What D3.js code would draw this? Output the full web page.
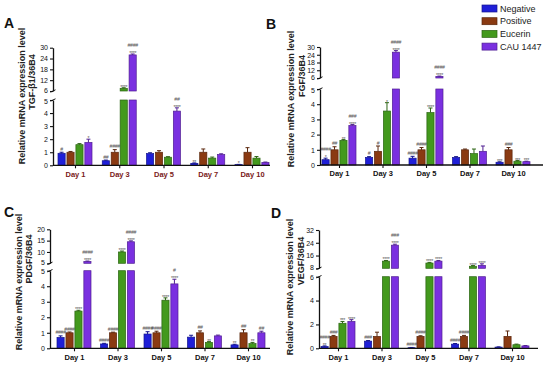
<!DOCTYPE html>
<html>
<head>
<meta charset="utf-8">
<title>growth factor expression bars</title>
<style>
body { margin: 0; background: #fff; }
text { font-family: "Liberation Sans", Arial, sans-serif; }
</style>
</head>
<body>
<div id="wrapper"></div>
<script src="https://d3js.org/d3.v7.min.js"></script>
<script>
const days = ['Day 1', 'Day 3', 'Day 5', 'Day 7', 'Day 10']
const groups = ['Negative', 'Positive', 'Eucerin', 'CAU 1447']
const groupColors = ['#1f1fd8', '#8a3a12', '#43991d', '#7a30e0']

// rows = groups (Negative, Positive, Eucerin, CAU 1447), cols = days
const tgfMean = [
  [0.92, 0.35, 0.90, 0.15, 0.05],
  [1.00, 1.00, 1.00, 1.00, 1.00],
  [1.58, 7.5, 0.62, 0.55, 0.55],
  [1.75, 26, 4.15, 0.82, 0.22]
]
const tgfErr = [
  [0.08, 0.05, 0.06, 0.03, 0.02],
  [0.06, 0.2, 0.12, 0.25, 0.35],
  [0.08, 0.3, 0.04, 0.08, 0.12],
  [0.25, 0.5, 0.25, 0.06, 0.03]
]
const tgfStars = [
  ['', '', '', '**', '*'],
  ['', '', '', '', ''],
  ['', '****', '', '', ''],
  ['*', '****', '****', '', '']
]
const tgfHash = [
  ['#', '##', '', '', ''],
  ['', '####', '', '', ''],
  ['', '', '', '', ''],
  ['', '####', '##', '', '']
]

const fgfMean = [
  [0.35, 0.5, 0.45, 0.5, 0.18],
  [1.0, 0.9, 1.0, 1.0, 1.0],
  [1.62, 3.55, 3.45, 0.75, 0.25],
  [2.6, 26, 7.2, 0.9, 0.22]
]
const fgfErr = [
  [0.1, 0.05, 0.12, 0.05, 0.03],
  [0.2, 0.35, 0.15, 0.05, 0.15],
  [0.05, 0.55, 0.3, 0.3, 0.04],
  [0.06, 1.2, 0.3, 0.35, 0.03]
]
const fgfStars = [
  ['*', '', '', '', '***'],
  ['', '', '', '', ''],
  ['**', '*', '****', '', '***'],
  ['****', '****', '****', '', '***']
]
const fgfHash = [
  ['####', '#', '####', '', ''],
  ['##', '#', '####', '', '###'],
  ['', '', '', '', ''],
  ['###', '####', '####', '', '']
]

const pdgfMean = [
  [0.7, 0.28, 0.92, 0.72, 0.22],
  [1.0, 1.0, 1.0, 1.0, 1.0],
  [2.4, 10, 3.1, 0.38, 0.3],
  [5.8, 14.5, 4.15, 0.8, 1.0]
]
const pdgfErr = [
  [0.1, 0.04, 0.15, 0.12, 0.04],
  [0.05, 0.04, 0.1, 0.12, 0.2],
  [0.05, 0.4, 0.15, 0.05, 0.08],
  [0.2, 0.4, 0.3, 0.05, 0.1]
]
const pdgfStars = [
  ['', '', '', '', '**'],
  ['', '', '', '', ''],
  ['****', '****', '****', '**', '**'],
  ['****', '****', '****', '', '']
]
const pdgfHash = [
  ['####', '####', '####', '', ''],
  ['####', '####', '####', '##', '##'],
  ['', '', '', '', ''],
  ['####', '####', '#', '', '##']
]

const vegfMean = [
  [0.15, 0.6, 0.05, 0.35, 0.1],
  [1.0, 1.0, 1.0, 1.0, 1.0],
  [2.1, 12.5, 11.3, 9.3, 0.3],
  [2.25, 22.5, 12.5, 9.8, 0.2]
]
const vegfErr = [
  [0.05, 0.05, 0.02, 0.05, 0.02],
  [0.08, 0.35, 0.05, 0.08, 0.45],
  [0.15, 0.4, 0.4, 0.4, 0.05],
  [0.15, 0.6, 0.4, 1.0, 0.03]
]
const vegfStars = [
  ['**', '', '', '', ''],
  ['', '', '', '', ''],
  ['***', '****', '****', '****', ''],
  ['****', '****', '****', '****', '']
]
const vegfHash = [
  ['####', '###', '####', '####', ''],
  ['###', '', '####', '####', ''],
  ['', '', '', '', ''],
  ['', '###', '', '', '']
]

const width = 550
const height = 369

const svg = d3.select('#wrapper').append('svg')
  .attr('width', width)
  .attr('height', height)
  .style('display', 'block')

svg.append('rect').attr('width', width).attr('height', height).attr('fill', '#fff')

const panels = [
  { letter: 'A', lx: 4, ly: 28, x0: 53, xEnd: 270, first: 75, last: 252,
    base: 165.3, lowTop: 100, upBot: 91, upTop: 47.7,
    lowDom: [0, 5], upDom: [6, 30], lowTicks: [0, 1, 2, 3, 4, 5], upTicks: [6, 12, 18, 24, 30],
    ylab: 'TGF-β1/36B4', l1x: 24.5, l1y: 96, l2x: 34.5, l2y: 82, dayColor: '#7a1a1a',
    mean: tgfMean, err: tgfErr, stars: tgfStars, hash: tgfHash },
  { letter: 'B', lx: 266, ly: 29, x0: 320, xEnd: 543, first: 339, last: 513,
    base: 165, lowTop: 89, upBot: 78, upTop: 47,
    lowDom: [0, 5], upDom: [6, 30], lowTicks: [0, 1, 2, 3, 4, 5], upTicks: [6, 12, 18, 24, 30],
    ylab: 'FGF/36B4', l1x: 294, l1y: 99, l2x: 304.5, l2y: 76, dayColor: '#111',
    mean: fgfMean, err: fgfErr, stars: fgfStars, hash: fgfHash },
  { letter: 'C', lx: 4, ly: 217, x0: 50, xEnd: 270, first: 74, last: 248,
    base: 348.3, lowTop: 270.7, upBot: 263.3, upTop: 229.3,
    lowDom: [0, 5], upDom: [5, 20], lowTicks: [0, 1, 2, 3, 4, 5], upTicks: [5, 10, 15, 20],
    ylab: 'PDGF/36B4', l1x: 22, l1y: 282, l2x: 32, l2y: 259, dayColor: '#111',
    mean: pdgfMean, err: pdgfErr, stars: pdgfStars, hash: pdgfHash },
  { letter: 'D', lx: 271, ly: 218, x0: 319, xEnd: 538, first: 338, last: 512,
    base: 348.3, lowTop: 276.7, upBot: 268.3, upTop: 230,
    lowDom: [0, 6], upDom: [8, 32], lowTicks: [0, 2, 4, 6], upTicks: [8, 16, 24, 32],
    ylab: 'VEGF/36B4', l1x: 293, l1y: 287, l2x: 303.5, l2y: 261, dayColor: '#111',
    mean: vegfMean, err: vegfErr, stars: vegfStars, hash: vegfHash }
]

panels.forEach(drawPanel)

function drawPanel(p) {
  const g = svg.append('g')

  const x = d3.scalePoint().domain(days).range([p.first, p.last])
  const xInner = d3.scaleBand().domain(groups).range([-17, 17]).paddingInner(0.2)
  const yLow = d3.scaleLinear().domain(p.lowDom).range([p.base, p.lowTop])
  const yUp = d3.scaleLinear().domain(p.upDom).range([p.upBot, p.upTop])
  const lowMax = p.lowDom[1]
  const upMin = p.upDom[0]
  const y = v => v <= lowMax ? yLow(v) : yUp(Math.max(v, upMin))

  // bars
  groups.forEach((name, gi) => {
    const col = groupColors[gi]
    const dark = d3.color(col).darker(1.2)
    days.forEach((day, di) => {
      const v = p.mean[gi][di]
      const bx = x(day) + xInner(name)
      const bw = xInner.bandwidth()
      const lowV = Math.min(v, lowMax)
      g.append('rect')
        .attr('x', bx).attr('y', yLow(lowV))
        .attr('width', bw).attr('height', p.base - yLow(lowV))
        .attr('fill', col).attr('stroke', dark).attr('stroke-width', 0.7)
      if (v > upMin) {
        g.append('rect')
          .attr('x', bx).attr('y', yUp(v))
          .attr('width', bw).attr('height', yUp(upMin) - yUp(v))
          .attr('fill', col).attr('stroke', dark).attr('stroke-width', 0.7)
      }
      // error bar (upper only)
      const top = y(v + p.err[gi][di])
      const cx = bx + bw / 2
      g.append('line')
        .attr('x1', cx).attr('x2', cx).attr('y1', y(v)).attr('y2', top)
        .attr('stroke', dark).attr('stroke-width', 1)
      g.append('line')
        .attr('x1', cx - 2).attr('x2', cx + 2).attr('y1', top).attr('y2', top)
        .attr('stroke', dark).attr('stroke-width', 1)

      // significance marks: stars nearest the bar, hashes above
      let ty = top - 1.5
      const marks = [p.stars[gi][di], p.hash[gi][di]]
      marks.forEach(m => {
        if (!m) return
        g.append('text')
          .attr('x', cx).attr('y', ty + (m[0] === '*' ? 2.5 : 0))
          .attr('text-anchor', 'middle')
          .attr('font-size', 5.2)
          .attr('letter-spacing', -0.3)
          .attr('fill', '#555')
          .text(m)
        ty -= 5.5
      })
    })
  })

  // x axis
  const xAxis = g.append('g')
    .attr('transform', `translate(0,${p.base})`)
    .call(d3.axisBottom(x).tickSize(3).tickPadding(3))
  xAxis.select('.domain').remove()
  xAxis.append('line')
    .attr('x1', p.x0).attr('x2', p.xEnd).attr('y1', 0).attr('y2', 0)
    .attr('stroke', '#111').attr('stroke-width', 1.3)
  xAxis.selectAll('.tick line').attr('stroke', '#111').attr('stroke-width', 1.1)
  xAxis.selectAll('.tick text')
    .attr('font-size', 7.5).attr('font-weight', 'bold')
    .attr('fill', p.dayColor)
    .style('font-family', '"Liberation Sans", Arial, sans-serif')

  // broken y axis
  const fmt = d3.format('d')
  const yAxisLow = g.append('g')
    .attr('transform', `translate(${p.x0},0)`)
    .call(d3.axisLeft(yLow).tickValues(p.lowTicks).tickFormat(fmt).tickSize(3).tickSizeOuter(0).tickPadding(2))
  const yAxisUp = g.append('g')
    .attr('transform', `translate(${p.x0},0)`)
    .call(d3.axisLeft(yUp).tickValues(p.upTicks).tickFormat(fmt).tickSize(3).tickSizeOuter(0).tickPadding(2))
  ;[yAxisLow, yAxisUp].forEach(a => {
    a.select('.domain').attr('stroke', '#111').attr('stroke-width', 1.3)
    a.selectAll('.tick line').attr('stroke', '#111').attr('stroke-width', 1.1)
    a.selectAll('.tick text')
      .attr('font-size', 7).attr('fill', '#111')
      .style('font-family', '"Liberation Sans", Arial, sans-serif')
  })
  // labels at the two edges of the break sit a touch apart
  yAxisLow.selectAll('.tick text').filter(d => d === lowMax).attr('dy', '0.45em')
  yAxisUp.selectAll('.tick text').filter(d => d === upMin).attr('dy', '0.2em')
  // break marks
  ;[p.lowTop, p.upBot].forEach(by => {
    g.append('line')
      .attr('x1', p.x0 - 2.5).attr('x2', p.x0 + 2.5)
      .attr('y1', by + 1.2).attr('y2', by - 1.2)
      .attr('stroke', '#111').attr('stroke-width', 1)
  })

  // y labels
  g.append('text')
    .attr('transform', `translate(${p.l1x},${p.l1y}) rotate(-90)`)
    .attr('text-anchor', 'middle')
    .attr('font-size', 9).attr('font-weight', 'bold').attr('fill', '#222')
    .text('Relative mRNA expression level')
  g.append('text')
    .attr('transform', `translate(${p.l2x},${p.l2y}) rotate(-90)`)
    .attr('text-anchor', 'middle')
    .attr('font-size', 9).attr('font-weight', 'bold').attr('fill', '#222')
    .text(p.ylab)

  // panel letter
  g.append('text')
    .attr('x', p.lx).attr('y', p.ly)
    .attr('font-size', 14).attr('font-weight', 'bold').attr('fill', '#111')
    .text(p.letter)
}

// legend
const legend = svg.append('g').attr('transform', 'translate(482,5)')
groups.forEach((name, i) => {
  const row = legend.append('g').attr('transform', `translate(0,${i * 12.7})`)
  row.append('rect')
    .attr('width', 15).attr('height', 7)
    .attr('fill', groupColors[i])
    .attr('stroke', d3.color(groupColors[i]).darker(1.2)).attr('stroke-width', 0.7)
  row.append('text')
    .attr('x', 18).attr('y', 6.5)
    .attr('font-size', 9).attr('fill', '#222')
    .text(name)
})
</script>
</body>
</html>
